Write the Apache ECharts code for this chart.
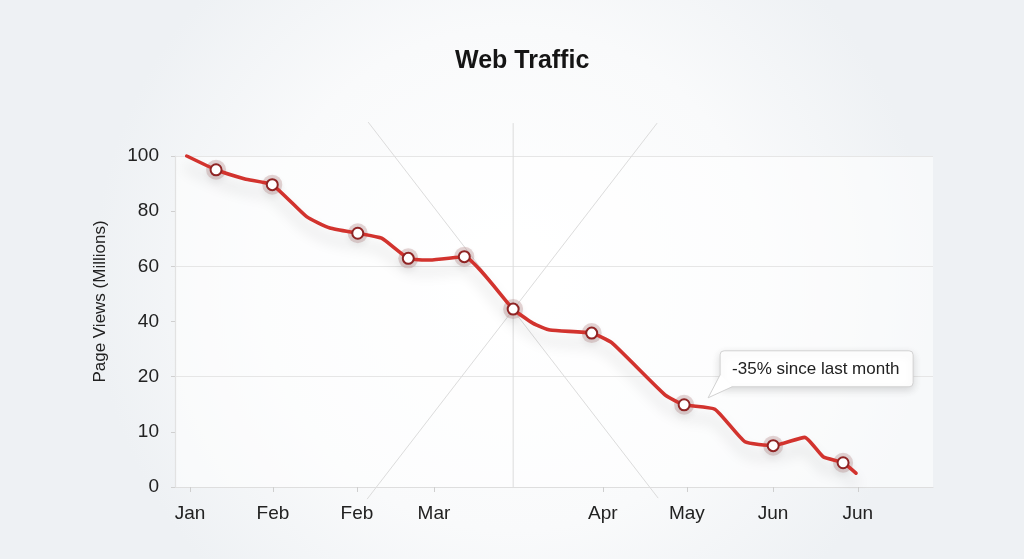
<!DOCTYPE html>
<html>
<head>
<meta charset="utf-8">
<script src="https://cdn.jsdelivr.net/npm/echarts@6/dist/echarts.min.js"></script>
<style>
html,body{margin:0;padding:0;width:1024px;height:559px;overflow:hidden;}
#chart{width:1024px;height:559px;}
</style>
</head>
<body>
<div id="chart"></div>
<script>
// ---- data ----
const xTickPositions = [0.71, 4.65, 8.64, 12.30, 20.32, 24.31, 28.40, 32.43];
const xTickLabels = ['Jan', 'Feb', 'Feb', 'Mar', 'Apr', 'May', 'Jun', 'Jun'];
const yTickValues = [0, 10, 20, 40, 60, 80, 100];
const xs = [0.56, 1.95, 3.32, 4.62, 6.25, 7.36, 8.68, 9.81, 11.08, 12.11, 13.74, 16.06, 17.01, 17.81, 19.79, 20.74, 23.27, 24.18, 25.64, 27.07, 28.41, 29.91, 30.78, 31.73, 32.34];
const pageViews = [100, 95, 91.7, 89.6, 78.0, 73.9, 72.0, 70.2, 62.9, 62.3, 63.5, 44.5, 39.3, 36.9, 35.8, 32.3, 16.7, 14.9, 14.1, 8.2, 7.5, 9.0, 5.5, 4.4, 2.5];
const marked = [0,1,0,1,0,0,1,0,1,0,1,1,0,0,1,0,0,1,0,0,1,0,0,1,0];
const focusIndex = 11;
const calloutIndex = 17;
const calloutText = '-35% since last month';
const titleText = 'Web Traffic';
const yAxisName = 'Page Views (Millions)';

// piecewise scale: the y labels are equally spaced though their values are not
function toAxis(v) {
  for (let i = 0; i < yTickValues.length - 1; i++) {
    const a = yTickValues[i], b = yTickValues[i + 1];
    if (v <= b || i === yTickValues.length - 2) return i + (v - a) / (b - a);
  }
  return 0;
}

const FONT = '"Liberation Sans", Arial, sans-serif';
const lineData = xs.map((x, i) => {
  const item = { value: [x, toAxis(pageViews[i])] };
  if (!marked[i]) item.symbol = 'none';
  return item;
});
const haloData = xs.map((x, i) => [x, toAxis(pageViews[i])]).filter((d, i) => marked[i]);

const chart = echarts.init(document.getElementById('chart'));
chart.setOption({
  animation: false,
  backgroundColor: {
    type: 'radial', x: 0.5, y: 0.5, r: 0.75,
    colorStops: [{ offset: 0, color: '#ffffff' }, { offset: 0.6, color: '#f9fafb' }, { offset: 1, color: '#eef1f4' }]
  },
  title: {
    text: titleText, left: 450, top: 44,
    textStyle: { fontFamily: FONT, fontSize: 25, fontWeight: 'bold', color: '#151515' }
  },
  grid: { left: 175, right: 91, top: 156, bottom: 72, show: true, backgroundColor: 'rgba(255,255,255,0.55)', borderWidth: 0 },
  xAxis: {
    type: 'value', min: 0, max: 36,
    axisLine: { show: true, lineStyle: { color: '#dedede', width: 1.2 } },
    axisTick: { show: true, customValues: xTickPositions, length: 5, lineStyle: { color: '#cfcfcf' } },
    axisLabel: {
      customValues: xTickPositions, margin: 17,
      formatter: v => { const i = xTickPositions.indexOf(v); return i >= 0 ? xTickLabels[i] : ''; },
      fontFamily: FONT, fontSize: 19, color: '#222'
    },
    splitLine: { show: false }
  },
  yAxis: {
    type: 'value', min: 0, max: yTickValues.length - 1, interval: 1,
    name: yAxisName, nameLocation: 'middle', nameGap: 66,
    nameTextStyle: { fontFamily: FONT, fontSize: 17, color: '#222', padding: [0, 0, 0, 40] },
    axisLine: { show: true, lineStyle: { color: '#e2e2e2', width: 1.2 } },
    axisTick: { show: true, length: 4, lineStyle: { color: '#d0d0d0' } },
    axisLabel: { margin: 16, formatter: v => String(yTickValues[v]), fontFamily: FONT, fontSize: 19, color: '#222' },
    splitLine: { show: true, lineStyle: { color: ['#e6e6e6', 'rgba(0,0,0,0)'], width: 1.2 } }
  },
  series: [
    {
      type: 'scatter', data: haloData, symbol: 'circle', symbolSize: 20, z: 1,
      itemStyle: { color: 'rgba(190,150,150,0.5)', shadowColor: 'rgba(0,0,0,0.15)', shadowBlur: 6, shadowOffsetY: 3 },
      silent: true
    },
    {
      type: 'line', data: lineData, z: 3, smooth: 0.15,
      symbol: 'circle', symbolSize: 11, showSymbol: true,
      lineStyle: { color: '#d2332e', width: 3.6, shadowColor: 'rgba(0,0,0,0.18)', shadowBlur: 14, shadowOffsetY: 11, cap: 'round', join: 'round' },
      itemStyle: { color: '#ffffff', borderColor: '#8f2424', borderWidth: 2 }
    }
  ]
});

function drawDecor() {
  const p = chart.convertToPixel({ seriesIndex: 1 }, [xs[focusIndex], toAxis(pageViews[focusIndex])]);
  const axisBottom = chart.convertToPixel({ seriesIndex: 1 }, [0, 0])[1];
  const a = chart.convertToPixel({ seriesIndex: 1 }, [xs[calloutIndex], toAxis(pageViews[calloutIndex])]);
  const L = a[0] + 36, T = a[1] - 54, W = 193, H = 36;
  const guide = { stroke: '#dcdcdc', lineWidth: 1 };
  chart.setOption({
    graphic: [
      { type: 'line', z: 0, shape: { x1: p[0], y1: p[1] - 186, x2: p[0], y2: axisBottom }, style: guide, silent: true },
      { type: 'line', z: 0, shape: { x1: p[0] - 145, y1: p[1] - 187, x2: p[0] + 145, y2: p[1] + 189 }, style: guide, silent: true },
      { type: 'line', z: 0, shape: { x1: p[0] + 144, y1: p[1] - 186, x2: p[0] - 146, y2: p[1] + 190 }, style: guide, silent: true },
      { type: 'rect', z: 100, shape: { x: L, y: T, width: W, height: H, r: 4 },
        style: { fill: '#ffffff', stroke: '#d2d2d2', lineWidth: 1, shadowColor: 'rgba(0,0,0,0.14)', shadowBlur: 8, shadowOffsetY: 3 }, silent: true },
      { type: 'polygon', z: 101, shape: { points: [[L, T + 24], [a[0] + 24, a[1] - 7], [L + 12, T + H]] },
        style: { fill: '#ffffff' }, silent: true },
      { type: 'polyline', z: 102, shape: { points: [[L, T + 24], [a[0] + 24, a[1] - 7], [L + 12, T + H]] },
        style: { stroke: '#d2d2d2', lineWidth: 1, fill: null }, silent: true },
      { type: 'text', z: 103, x: L + 12, y: T + H / 2 + 1,
        style: { text: calloutText, fontFamily: FONT, fontSize: 17, fill: '#222', verticalAlign: 'middle', align: 'left' }, silent: true }
    ]
  });
}
drawDecor();
</script>
</body>
</html>
